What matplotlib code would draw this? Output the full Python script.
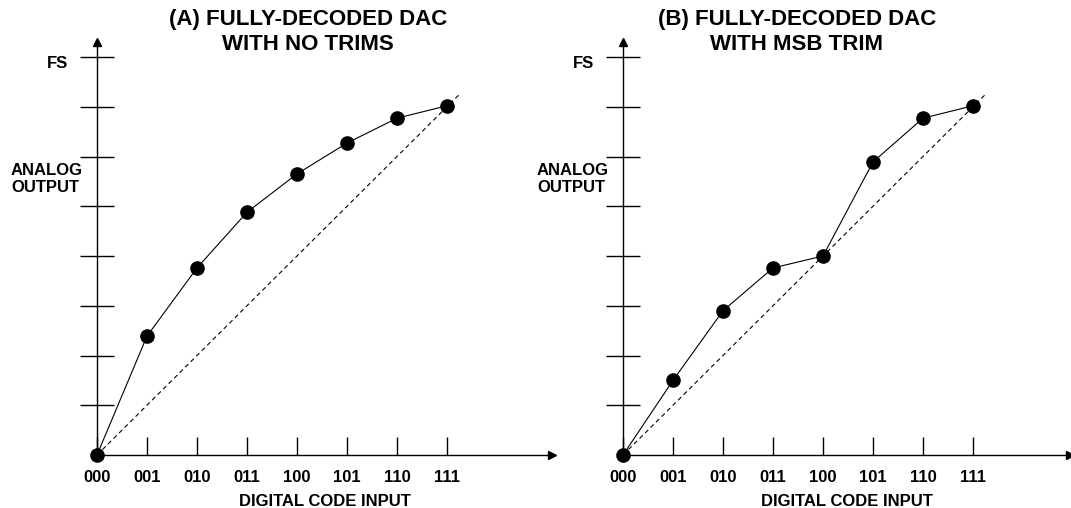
import matplotlib.pyplot as plt

plt.rcParams['font.family'] = ['Liberation Sans', 'DejaVu Sans']
plt.rcParams['font.weight'] = 'bold'

codes = ["000", "001", "010", "011", "100", "101", "110", "111"]
out_no_trim = [0, 2.39, 3.76, 4.88, 5.65, 6.27, 6.77, 7.02]
out_msb_trim = [0, 1.50, 2.90, 3.76, 4.00, 5.89, 6.77, 7.02]
ideal_end = 7.25

W, H = 1071, 508
fig = plt.figure(figsize=(W / 100, H / 100), dpi=100)


def panel(x0, x_end, title_x, title, values):
    # axis origin in pixels: (x0, 455); 50 px per code, 49.75 px per LSB
    y0, y_top = 455, 42
    ax = fig.add_axes([x0 / W, (H - y0) / H, (x_end - x0) / W, (y0 - y_top) / H])
    ax.set_xlim(0, (x_end - x0) / 50)
    ax.set_ylim(0, (y0 - y_top) / 49.75)
    for s in ("top", "right"):
        ax.spines[s].set_visible(False)
    for s in ("left", "bottom"):
        ax.spines[s].set_linewidth(1.0)
    ax.plot(1, 0, ">k", ms=6, transform=ax.transAxes, clip_on=False)
    ax.plot(0, 1, "^k", ms=6, transform=ax.transAxes, clip_on=False)

    ax.set_xticks(range(len(codes)))
    ax.set_xticklabels(codes, fontsize=12, fontweight="bold")
    ax.tick_params(axis="x", direction="in", length=13, width=1.0, pad=11)
    ax.set_yticks(range(1, 9))
    ax.set_yticklabels([])
    ax.tick_params(axis="y", direction="inout", length=25, width=1.0)

    ax.plot([0, ideal_end], [0, ideal_end], color="k", lw=0.8,
            dashes=(4, 3), clip_on=False)
    ax.plot(range(len(values)), values, color="k", lw=0.8, marker="o",
            ms=9.5, clip_on=False, zorder=5)

    ax.set_xlabel("DIGITAL CODE INPUT", fontsize=12, fontweight="bold",
                  labelpad=6)
    fig.text((x0 - 40) / W, 1 - 63 / H, "FS", fontsize=12, fontweight="bold",
             ha="center", va="center")
    fig.text((x0 - 86) / W, 1 - 179 / H, "ANALOG\nOUTPUT", fontsize=12,
             fontweight="bold", ha="left", va="center", linespacing=1.1)
    fig.text(title_x / W, 1 - 32 / H, title, fontsize=16,
             fontweight="bold", ha="center", va="center", linespacing=1.2)
    return ax


panel(97, 552, 308, "(A) FULLY-DECODED DAC\nWITH NO TRIMS", out_no_trim)
panel(623, 1070, 797, "(B) FULLY-DECODED DAC\nWITH MSB TRIM", out_msb_trim)

fig.savefig("out.png", dpi=100)
